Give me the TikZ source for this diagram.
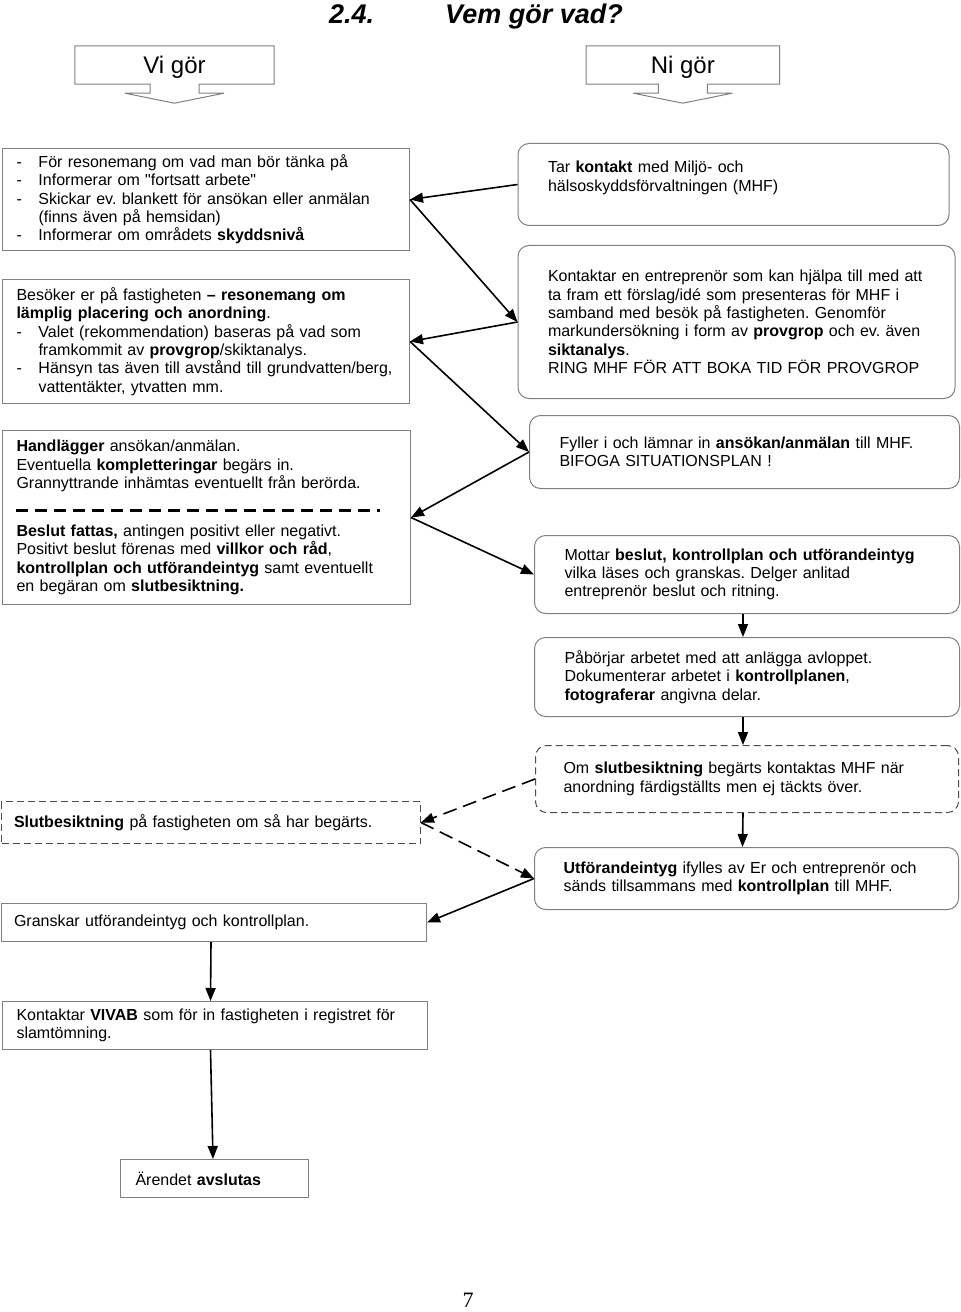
\documentclass[tikz,border=0pt]{standalone}
\usepackage{fontspec}
\setmainfont{Liberation Sans}[Ligatures=TeXOff]
\newfontfamily\pagefont{Liberation Serif}
\usetikzlibrary{arrows.meta}
\definecolor{boxgray}{RGB}{128,128,128}
\newcommand{\lpunkt}{\makebox[22bp][l]{-}}
\newcommand{\lindrag}{\hspace*{22bp}}
\frenchspacing

\begin{document}
\begin{tikzpicture}[x=1bp, y=-1bp,
    every node/.style={font=\fontsize{16bp}{18.3bp}\selectfont\frenchspacing},
    sqbox/.style={draw=boxgray, line width=1bp, anchor=north west, inner xsep=14bp, inner ysep=0pt, align=left},
    rndbox/.style={sqbox, rounded corners=11bp, inner xsep=30bp},
    dbox/.style={draw=black!70, dash pattern=on 7bp off 4bp},
    link/.style={line width=1.6bp, -{Triangle[length=13bp,width=10bp]}},
    dlink/.style={link, dash pattern=on 14bp off 7bp},
    callout/.style={draw=boxgray, line width=1bp},
    headtext/.style={font=\fontsize{24bp}{28bp}\selectfont, minimum height=38bp, inner sep=0pt, text depth=0pt}]

    \useasboundingbox (0,0) rectangle (960,1312);

    % rubrik
    \node[anchor=base west, inner sep=0pt, font=\fontsize{27bp}{30bp}\selectfont\bfseries\itshape] (rubrik) at (329,23.3) {2.4.\hspace{71bp}Vem gör vad?};

    \node[headtext, minimum width=199bp] (vi) at (174.5,65) {Vi gör};
    \node[headtext, minimum width=193bp] (ni) at (682.8,65) {Ni gör};
    \foreach \hd in {vi,ni}
        \draw[callout] (\hd.south) ++(-24.5,0) -- (\hd.south west) -- (\hd.north west) -- (\hd.north east) -- (\hd.south east) -- ([xshift=24.5bp]\hd.south) -- ++(0,9) -- ++(25,0) -- ++(-49.5,10) -- ++(-49.5,-10) -- ++(25,0) -- cycle;

    % vi gör
    \node[sqbox, minimum width=407bp, minimum height=102bp, text width=379bp] (info) at (2,148) {\lpunkt För resonemang om vad man bör tänka på\\
        \lpunkt Informerar om "fortsatt arbete"\\
        \lpunkt Skickar ev. blankett för ansökan eller anmälan\\
        \lindrag(finns även på hemsidan)\\
        \lpunkt Informerar om områdets \textbf{skyddsnivå}};
    \node[sqbox, minimum width=407bp, minimum height=124bp, text width=379bp] (besok) at (2,279) {Besöker er på fastigheten \textbf{– resonemang om}\\
        \textbf{lämplig placering och anordning}.\\
        \lpunkt Valet (rekommendation) baseras på vad som\\
        \lindrag framkommit av \textbf{provgrop}/skiktanalys.\\
        \lpunkt Hänsyn tas även till avstånd till grundvatten/berg,\\
        \lindrag vattentäkter, ytvatten mm.};
    \node[sqbox, minimum width=408bp, minimum height=174bp, text width=380bp] (handl) at (2,430) {\textbf{Handlägger} ansökan/anmälan.\\
        Eventuella \textbf{kompletteringar} begärs in.\\
        Grannyttrande inhämtas eventuellt från berörda.\\[29.7bp]
        \textbf{Beslut fattas,} antingen positivt eller negativt.\\
        Positivt beslut förenas med \textbf{villkor och råd},\\
        \textbf{kontrollplan och utförandeintyg} samt eventuellt\\
        en begäran om \textbf{slutbesiktning.}};
    \draw[line width=2.5bp, dash pattern=on 12bp off 7bp] ([shift={(14,-7)}]handl.west) -- ++(364,0);
    \node[sqbox, dbox, minimum width=419bp, minimum height=42bp, inner xsep=12.5bp, text width=394bp] (slutbes) at (1,801) {\textbf{Slutbesiktning} på fastigheten om så har begärts.};
    \node[sqbox, minimum width=425bp, minimum height=38bp, inner xsep=12.5bp, text width=400bp] (granskar) at (1,903) {Granskar utförandeintyg och kontrollplan.};
    \node[sqbox, minimum width=425bp, minimum height=48bp, text width=397bp] (vivab) at (2,1001) {Kontaktar \textbf{VIVAB} som för in fastigheten i registret för\\
        slamtömning.};
    \node[sqbox, minimum width=188bp, minimum height=38bp, inner xsep=15bp, text width=158bp] (avslut) at (120,1159) {Ärendet \textbf{avslutas}};

    % ni gör
    \node[rndbox, minimum width=431bp, minimum height=82bp, text width=371bp] (kontakt) at (517.5,143) {Tar \textbf{kontakt} med Miljö- och\\
        hälsoskyddsförvaltningen (MHF)\\[-2bp]\mbox{}};
    \node[rndbox, minimum width=437bp, minimum height=153bp, text width=377bp] (entr) at (517.5,245) {Kontaktar en entreprenör som kan hjälpa till med att\\
        ta fram ett förslag/idé som presenteras för MHF i\\
        samband med besök på fastigheten. Genomför\\
        markundersökning i form av \textbf{provgrop} och ev. även\\
        \textbf{siktanalys}.\\
        RING MHF FÖR ATT BOKA TID FÖR PROVGROP};
    \node[rndbox, minimum width=430bp, minimum height=73bp, text width=370bp] (ansok) at (529,415) {Fyller i och lämnar in \textbf{ansökan/anmälan} till MHF.\\
        BIFOGA SITUATIONSPLAN !};
    \node[rndbox, minimum width=425bp, minimum height=78bp, text width=365bp] (mottar) at (534,535) {Mottar \textbf{beslut, kontrollplan och utförandeintyg}\\
        vilka läses och granskas. Delger anlitad\\
        entreprenör beslut och ritning.};
    \node[rndbox, minimum width=425bp, minimum height=79bp, text width=365bp] (borjar) at (534,637) {Påbörjar arbetet med att anlägga avloppet.\\
        Dokumenterar arbetet i \textbf{kontrollplanen},\\
        \textbf{fotograferar} angivna delar.};
    \node[rndbox, dbox, minimum width=423bp, minimum height=67bp, inner xsep=28bp, text width=367bp] (slutom) at (535,745) {Om \textbf{slutbesiktning} begärts kontaktas MHF när\\
        anordning färdigställts men ej täckts över.};
    \node[rndbox, minimum width=424bp, minimum height=62bp, inner xsep=29bp, text width=366bp] (intyg) at (534,847) {\textbf{Utförandeintyg} ifylles av Er och entreprenör och\\
        sänds tillsammans med \textbf{kontrollplan} till MHF.};

    \node[inner sep=0pt, font=\pagefont\fontsize{22bp}{26bp}\selectfont] (sidnr) at (468,1300) {7};

    % pilar
    \draw[link] (kontakt.west) -- (info.east);
    \draw[link] (info.east) -- (entr.west);
    \draw[link] (entr.west) -- (besok.east);
    \draw[link] (besok.east) -- (ansok.west);
    \draw[link] (ansok.west) -- (handl.east);
    \draw[link] (handl.east) -- (mottar.west);
    \draw[link] ([xshift=-4bp]mottar.south) -- ([xshift=-4bp]borjar.north);
    \draw[link] ([xshift=-4bp]borjar.south) -- ([xshift=-4bp]slutom.north);
    \draw[link] ([xshift=-4bp]slutom.south) -- ([xshift=-4bp]intyg.north);
    \draw[dlink] (slutom.west) -- (slutbes.east);
    \draw[dlink] (slutbes.east) -- (intyg.west);
    \draw[link] (intyg.west) -- (granskar.east);
    \draw[link] ([xshift=-3bp]granskar.south) -- ([xshift=-4.5bp]vivab.north);
    \draw[link] ([xshift=-4.5bp]vivab.south) -- ([xshift=-1.5bp]avslut.north);

\end{tikzpicture}
\end{document}
